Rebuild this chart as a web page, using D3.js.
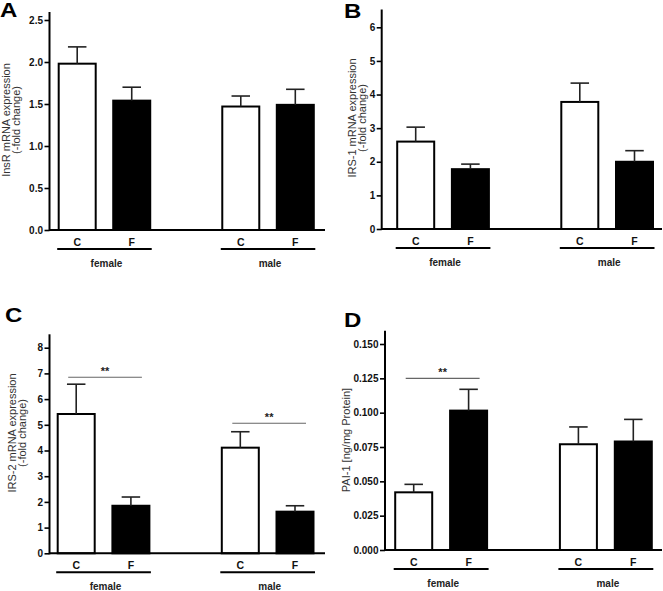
<!DOCTYPE html>
<html>
<head>
<meta charset="utf-8">
<script src="https://cdn.jsdelivr.net/npm/d3@7"></script>
<style>
  html, body { margin: 0; padding: 0; background: #fff; }
  svg { display: block; }
  text { font-family: "Liberation Sans", Arial, sans-serif; }
</style>
</head>
<body>
<svg id="chart" width="663" height="591"></svg>
<script>
// ---------- data ----------
const barLabels = ["C", "F", "C", "F"];
const groupNames = ["female", "male"];
const slots = [0, 1, 3, 4];            // bar positions (gap between groups)
const barFills = ["white", "black", "white", "black"];

const insrMean = [1.98, 1.54, 1.47, 1.49];
const insrErr  = [0.20, 0.16, 0.125, 0.185];
const insrTicks = [0, 0.5, 1.0, 1.5, 2.0, 2.5];

const irs1Mean = [2.60, 1.78, 3.78, 2.00];
const irs1Err  = [0.43, 0.15, 0.56, 0.33];
const irs1Ticks = [0, 1, 2, 3, 4, 5, 6];

const irs2Mean = [5.42, 1.85, 4.11, 1.62];
const irs2Err  = [1.16, 0.34, 0.62, 0.23];
const irs2Ticks = [0, 1, 2, 3, 4, 5, 6, 7, 8];
// significance brackets: from/to are bar indices
const irs2Sig = [{ from: 0, to: 1, level: 6.85, label: "**" },
                 { from: 2, to: 3, level: 5.06, label: "**" }];

const pai1Mean = [0.042, 0.1015, 0.077, 0.079];
const pai1Err  = [0.0058, 0.0155, 0.0126, 0.0161];
const pai1Ticks = [0, 0.025, 0.05, 0.075, 0.1, 0.125, 0.15];
const pai1Sig = [{ from: 0, to: 1, level: 0.125, label: "**" }];

// ---------- layout ----------
const panels = [
  { letter: "A", lx: 0, ly: 17, mean: insrMean, err: insrErr, ticks: insrTicks, fmt: ".1f",
    axisX: 49.5, axisEnd: 325, base: 230, topTickPx: 20, topAxisPx: 12, tickMax: 2.5,
    xr: [77.2, 295.3], title: ["InsR mRNA expression", "(-fold change)"], titleX: [10, 20], titleY: 120, sig: [] },
  { letter: "B", lx: 344, ly: 18, mean: irs1Mean, err: irs1Err, ticks: irs1Ticks, fmt: "d",
    axisX: 381.7, axisEnd: 662, base: 229, topTickPx: 27.3, topAxisPx: 9.5, tickMax: 6,
    xr: [415.7, 634.5], title: ["IRS-1 mRNA expression", "(-fold change)"], titleX: [356, 366], titleY: 118, sig: [] },
  { letter: "C", lx: 5, ly: 322, mean: irs2Mean, err: irs2Err, ticks: irs2Ticks, fmt: "d",
    axisX: 49.5, axisEnd: 325, base: 553.3, topTickPx: 347.7, topAxisPx: 334.3, tickMax: 8,
    xr: [76.2, 295], title: ["IRS-2 mRNA expression", "(-fold change)"], titleX: [16, 26], titleY: 433, sig: irs2Sig },
  { letter: "D", lx: 344, ly: 327, mean: pai1Mean, err: pai1Err, ticks: pai1Ticks, fmt: ".3f",
    axisX: 385, axisEnd: 662, base: 550, topTickPx: 344, topAxisPx: 330.7, tickMax: 0.15,
    xr: [413.7, 633.3], title: ["PAI-1 [ng/mg Protein]"], titleX: [349.5], titleY: 440, sig: pai1Sig }
];

const svg = d3.select("#chart");
svg.append("rect").attr("width", 663).attr("height", 591).attr("fill", "white");

panels.forEach(p => {
  const g = svg.append("g");
  const y = d3.scaleLinear().domain([0, p.tickMax]).range([p.base, p.topTickPx]);
  const x = d3.scaleLinear().domain([0, 4]).range(p.xr);
  const bw = 37;

  // panel letter
  g.append("text").attr("x", p.lx).attr("y", p.ly)
    .attr("font-size", 20).attr("font-weight", "bold")
    .attr("transform", `translate(${p.lx},0) scale(1.2,1) translate(${-p.lx},0)`)
    .text(p.letter);

  // bars
  g.selectAll("rect.bar").data(p.mean).join("rect")
    .attr("class", "bar")
    .attr("x", (d, i) => x(slots[i]) - bw / 2)
    .attr("y", d => y(d))
    .attr("width", bw)
    .attr("height", d => y(0) - y(d))
    .attr("fill", (d, i) => barFills[i])
    .attr("stroke", "black").attr("stroke-width", 2);

  // error bars (upper only)
  p.mean.forEach((m, i) => {
    const cx = x(slots[i]);
    g.append("line").attr("x1", cx).attr("x2", cx)
      .attr("y1", y(m)).attr("y2", y(m + p.err[i]))
      .attr("stroke", "#222").attr("stroke-width", 1.6);
    g.append("line").attr("x1", cx - bw / 4).attr("x2", cx + bw / 4)
      .attr("y1", y(m + p.err[i])).attr("y2", y(m + p.err[i]))
      .attr("stroke", "#222").attr("stroke-width", 1.6);
  });

  // y axis
  const yAxis = d3.axisLeft(y).tickValues(p.ticks).tickFormat(d3.format(p.fmt))
    .tickSize(5).tickPadding(1.5).tickSizeOuter(0);
  const ag = g.append("g").attr("transform", `translate(${p.axisX},0)`).call(yAxis);
  ag.select(".domain").remove();
  ag.selectAll(".tick line").attr("stroke", "black").attr("stroke-width", 1.6);
  ag.selectAll(".tick text").attr("font-size", 10).attr("font-weight", "bold")
    .attr("fill", "#111").attr("font-family", "Liberation Sans, Arial, sans-serif");

  // axis lines
  g.append("line").attr("x1", p.axisX).attr("x2", p.axisX)
    .attr("y1", p.base + 1).attr("y2", p.topAxisPx)
    .attr("stroke", "black").attr("stroke-width", 2);
  g.append("line").attr("x1", p.axisX).attr("x2", p.axisEnd)
    .attr("y1", p.base).attr("y2", p.base)
    .attr("stroke", "black").attr("stroke-width", 2);

  // category labels
  g.selectAll("text.cat").data(barLabels).join("text")
    .attr("class", "cat")
    .attr("x", (d, i) => x(slots[i])).attr("y", p.base + 16)
    .attr("text-anchor", "middle").attr("font-size", 10.5).attr("font-weight", "bold")
    .attr("fill", "#111")
    .text(d => d);

  // group lines + names
  groupNames.forEach((name, gi) => {
    const a = x(slots[gi * 2]) - 20, b = x(slots[gi * 2 + 1]) + 20;
    g.append("line").attr("x1", a).attr("x2", b)
      .attr("y1", p.base + 19).attr("y2", p.base + 19)
      .attr("stroke", "black").attr("stroke-width", 2);
    g.append("text").attr("x", (a + b) / 2 + 2).attr("y", p.base + 36.5)
      .attr("text-anchor", "middle").attr("font-size", 10).attr("font-weight", "bold")
      .attr("fill", "#222")
      .text(name);
  });

  // axis title
  p.title.forEach((t, ti) => {
    g.append("text")
      .attr("transform", `translate(${p.titleX[ti]},${p.titleY}) rotate(-90)`)
      .attr("text-anchor", "middle").attr("font-size", 11).attr("fill", "#333")
      .text(t);
  });

  // significance markers
  p.sig.forEach(s => {
    const yy = y(s.level);
    const a = x(slots[s.from]) - 8, b = x(slots[s.to]) + 11;
    g.append("line").attr("x1", a).attr("x2", b).attr("y1", yy).attr("y2", yy)
      .attr("stroke", "#666").attr("stroke-width", 1.1);
    g.append("text").attr("x", (a + b) / 2).attr("y", yy - 2)
      .attr("text-anchor", "middle").attr("font-size", 11).attr("font-weight", "bold")
      .attr("fill", "#222").text(s.label);
  });
});
</script>
</body>
</html>
